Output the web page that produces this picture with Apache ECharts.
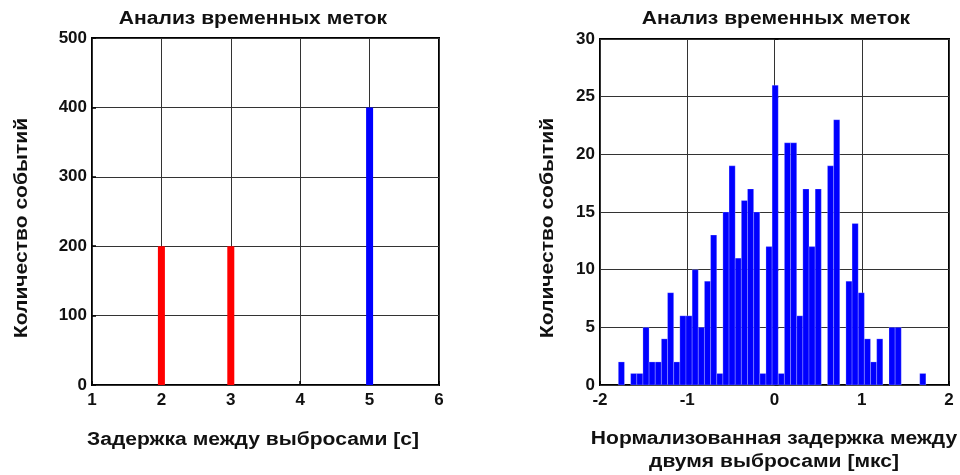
<!DOCTYPE html>
<html>
<head>
<meta charset="utf-8">
<script src="https://cdn.jsdelivr.net/npm/echarts@6/dist/echarts.min.js"></script>
<style>
html,body{margin:0;padding:0;background:#fff;}
#c{width:960px;height:475px;}
</style>
</head>
<body>
<div id="c"></div>
<script>
// ---- Data ----
var chartTitle = 'Анализ временных меток';
var yName = 'Количество событий';
var leftXName = 'Задержка между выбросами [с]';
var rightXName = 'Нормализованная задержка между\nдвумя выбросами [мкс]';

// Left plot: delays (s) and counts
var leftRedDelays = [2, 3];
var leftRedCounts = [200, 200];
var leftBlueDelays = [5];
var leftBlueCounts = [400];
var leftXTicks = [1, 2, 3, 4, 5, 6];
var leftYTicks = [0, 100, 200, 300, 400, 500];

// Right plot: histogram
var histFirstEdge = -1.79;
var histBinWidth = 0.0705;
var histCounts = [2, 0, 1, 1, 5, 2, 2, 4, 8, 2,
                  6, 6, 10, 5, 9, 13, 1, 15, 19, 11,
                  16, 17, 15, 1, 12, 26, 1, 21, 21, 6,
                  17, 12, 17, 0, 19, 23, 0, 9, 14, 8,
                  4, 2, 4, 0, 5, 5, 0, 0, 0, 1];
var rightXTicks = [-2, -1, 0, 1, 2];
var rightYTicks = [0, 5, 10, 15, 20, 25, 30];

// ---- Build ----
var histData = histCounts.map(function (c, k) {
  var x0 = histFirstEdge + k * histBinWidth;
  return [x0, x0 + histBinWidth, c];
});
var redData = leftRedDelays.map(function (d, i) { return [d, leftRedCounts[i]]; });
var blueData = leftBlueDelays.map(function (d, i) { return [d, leftBlueCounts[i]]; });

var FONT = '"Liberation Sans", Arial, sans-serif';
var TXT = '#111';

function stemRender(color) {
  return function (params, api) {
    var p0 = api.coord([api.value(0), 0]);
    var p1 = api.coord([api.value(0), api.value(1)]);
    var w = 7;
    return {
      type: 'rect',
      shape: { x: p0[0] - w / 2, y: p1[1], width: w, height: p0[1] - p1[1] },
      style: { fill: color }
    };
  };
}
function histRender(params, api) {
  var c = api.value(2);
  if (!c) return null;
  var p0 = api.coord([api.value(0), 0]);
  var p1 = api.coord([api.value(1), c]);
  return {
    type: 'rect',
    shape: { x: p0[0], y: p1[1], width: p1[0] - p0[0], height: p0[1] - p1[1] },
    style: { fill: '#0000ff', stroke: 'rgba(255,255,255,0.45)', lineWidth: 0.5 }
  };
}

function xAxis(gridIndex, ticks) {
  return {
    type: 'value', gridIndex: gridIndex,
    min: ticks[0], max: ticks[ticks.length - 1], interval: ticks[1] - ticks[0],
    axisLine: { show: false },
    axisTick: { show: true, inside: true, length: 4, lineStyle: { color: '#000', width: 1.5 } },
    axisLabel: { color: TXT, fontFamily: FONT, fontWeight: 'bold', fontSize: 17, margin: 7 },
    splitLine: { show: true, lineStyle: { color: '#333', width: 1 } }
  };
}
function yAxis(gridIndex, ticks) {
  return {
    type: 'value', gridIndex: gridIndex,
    min: ticks[0], max: ticks[ticks.length - 1], interval: ticks[1] - ticks[0],
    axisLine: { show: false },
    axisTick: { show: true, inside: true, length: 4, lineStyle: { color: '#000', width: 1.5 } },
    axisLabel: { color: TXT, fontFamily: FONT, fontWeight: 'bold', fontSize: 17, margin: 5 },
    splitLine: { show: true, lineStyle: { color: '#333', width: 1 } }
  };
}

var textStyle = function (txt, size) {
  return { text: txt, fill: TXT, font: 'bold ' + size + 'px ' + FONT, textAlign: 'center', textVerticalAlign: 'middle' };
};
var SX = 1.17;

var chart = echarts.init(document.getElementById('c'), null, { renderer: 'canvas' });
chart.setOption({
  backgroundColor: '#fff',
  animation: false,
  grid: [
    { left: 92, top: 38, width: 347, height: 347, show: true, borderColor: '#000', borderWidth: 2, backgroundColor: 'transparent' },
    { left: 600, top: 39, width: 349, height: 346, show: true, borderColor: '#000', borderWidth: 2, backgroundColor: 'transparent' }
  ],
  xAxis: [xAxis(0, leftXTicks), xAxis(1, rightXTicks)],
  yAxis: [yAxis(0, leftYTicks), yAxis(1, rightYTicks)],
  series: [
    { type: 'custom', xAxisIndex: 0, yAxisIndex: 0, data: redData, encode: { x: 0, y: 1 }, renderItem: stemRender('#ff0000'), z: 3 },
    { type: 'custom', xAxisIndex: 0, yAxisIndex: 0, data: blueData, encode: { x: 0, y: 1 }, renderItem: stemRender('#0000ff'), z: 3 },
    { type: 'custom', xAxisIndex: 1, yAxisIndex: 1, data: histData, encode: { x: [0, 1], y: 2 }, renderItem: histRender, z: 3 }
  ],
  graphic: [
    { type: 'text', x: 253, y: 19, scaleX: SX, style: textStyle(chartTitle, 18) },
    { type: 'text', x: 776, y: 19, scaleX: SX, style: textStyle(chartTitle, 18) },
    { type: 'text', x: 22, y: 228, rotation: Math.PI / 2, scaleX: SX, style: textStyle(yName, 18) },
    { type: 'text', x: 548, y: 228, rotation: Math.PI / 2, scaleX: SX, style: textStyle(yName, 18) },
    { type: 'text', x: 253, y: 440, scaleX: SX, style: textStyle(leftXName, 18) },
    { type: 'text', x: 774, y: 451, scaleX: SX, style: Object.assign(textStyle(rightXName, 18), { lineHeight: 23 }) }
  ]
});
</script>
</body>
</html>
